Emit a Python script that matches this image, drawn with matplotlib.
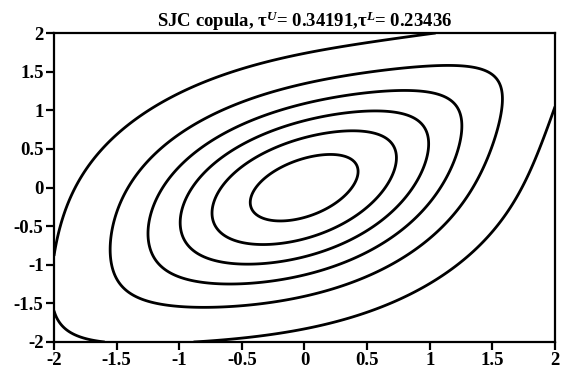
import math

import matplotlib
matplotlib.use('Agg')
import matplotlib.pyplot as plt
import numpy as np

plt.rcParams['font.family'] = ['Liberation Serif', 'DejaVu Serif']
plt.rcParams['font.weight'] = 'bold'
plt.rcParams['mathtext.fontset'] = 'custom'
plt.rcParams['mathtext.rm'] = 'Liberation Serif:bold'
plt.rcParams['mathtext.it'] = 'Liberation Serif:italic:bold'
plt.rcParams['mathtext.bf'] = 'Liberation Serif:bold'

# SJC copula parameters, standard normal margins
tau_u = 0.34191
tau_l = 0.23436
levels = [0.02, 0.05, 0.08, 0.11, 0.14, 0.17]
ticks = [-2, -1.5, -1, -0.5, 0, 0.5, 1, 1.5, 2]
tick_labels = ['-2', '-1.5', '-1', '-0.5', '0', '0.5', '1', '1.5', '2']
grid = np.linspace(-2, 2, 241)

erf = np.vectorize(math.erf)


def norm_cdf(x):
    return 0.5 * (1 + erf(x / np.sqrt(2)))


def joe_clayton(u, v, tu, tl):
    k = 1 / np.log2(2 - tu)
    g = -1 / np.log2(tl)
    s = (1 - (1 - u) ** k) ** (-g) + (1 - (1 - v) ** k) ** (-g) - 1
    return 1 - (1 - s ** (-1 / g)) ** (1 / k)


def sjc(u, v):
    return 0.5 * (joe_clayton(u, v, tau_u, tau_l)
                  + joe_clayton(1 - u, 1 - v, tau_l, tau_u) + u + v - 1)


def cdf2(x, y):
    return sjc(norm_cdf(x), norm_cdf(y))


def dens(x, y, h=1e-3):
    # mixed second difference of the joint cdf
    return (cdf2(x + h, y + h) - cdf2(x + h, y - h)
            - cdf2(x - h, y + h) + cdf2(x - h, y - h)) / (4 * h * h)


X, Y = np.meshgrid(grid, grid)
Z = dens(X, Y)

fig = plt.figure(figsize=(5.7, 3.75), dpi=100)
ax = fig.add_axes([0.0947, 0.088, 0.879, 0.824])
ax.contour(X, Y, Z, levels=levels, colors='k', linewidths=2.0)
ax.set_xlim(-2, 2)
ax.set_ylim(-2, 2)
ax.set_xticks(ticks)
ax.set_xticklabels(tick_labels)
ax.set_yticks(ticks)
ax.set_yticklabels(tick_labels)
ax.tick_params(direction='out', length=5.5, width=1.6, labelsize=13.5, pad=2,
               top=False, right=False)
for sp in ax.spines.values():
    sp.set_linewidth(1.6)
ax.set_title('SJC copula, $\\mathrm{\\tau}^U$= 0.34191,$\\mathrm{\\tau}^L$= 0.23436',
             fontsize=13.5, fontweight='bold', pad=4)
fig.savefig('out.png')
